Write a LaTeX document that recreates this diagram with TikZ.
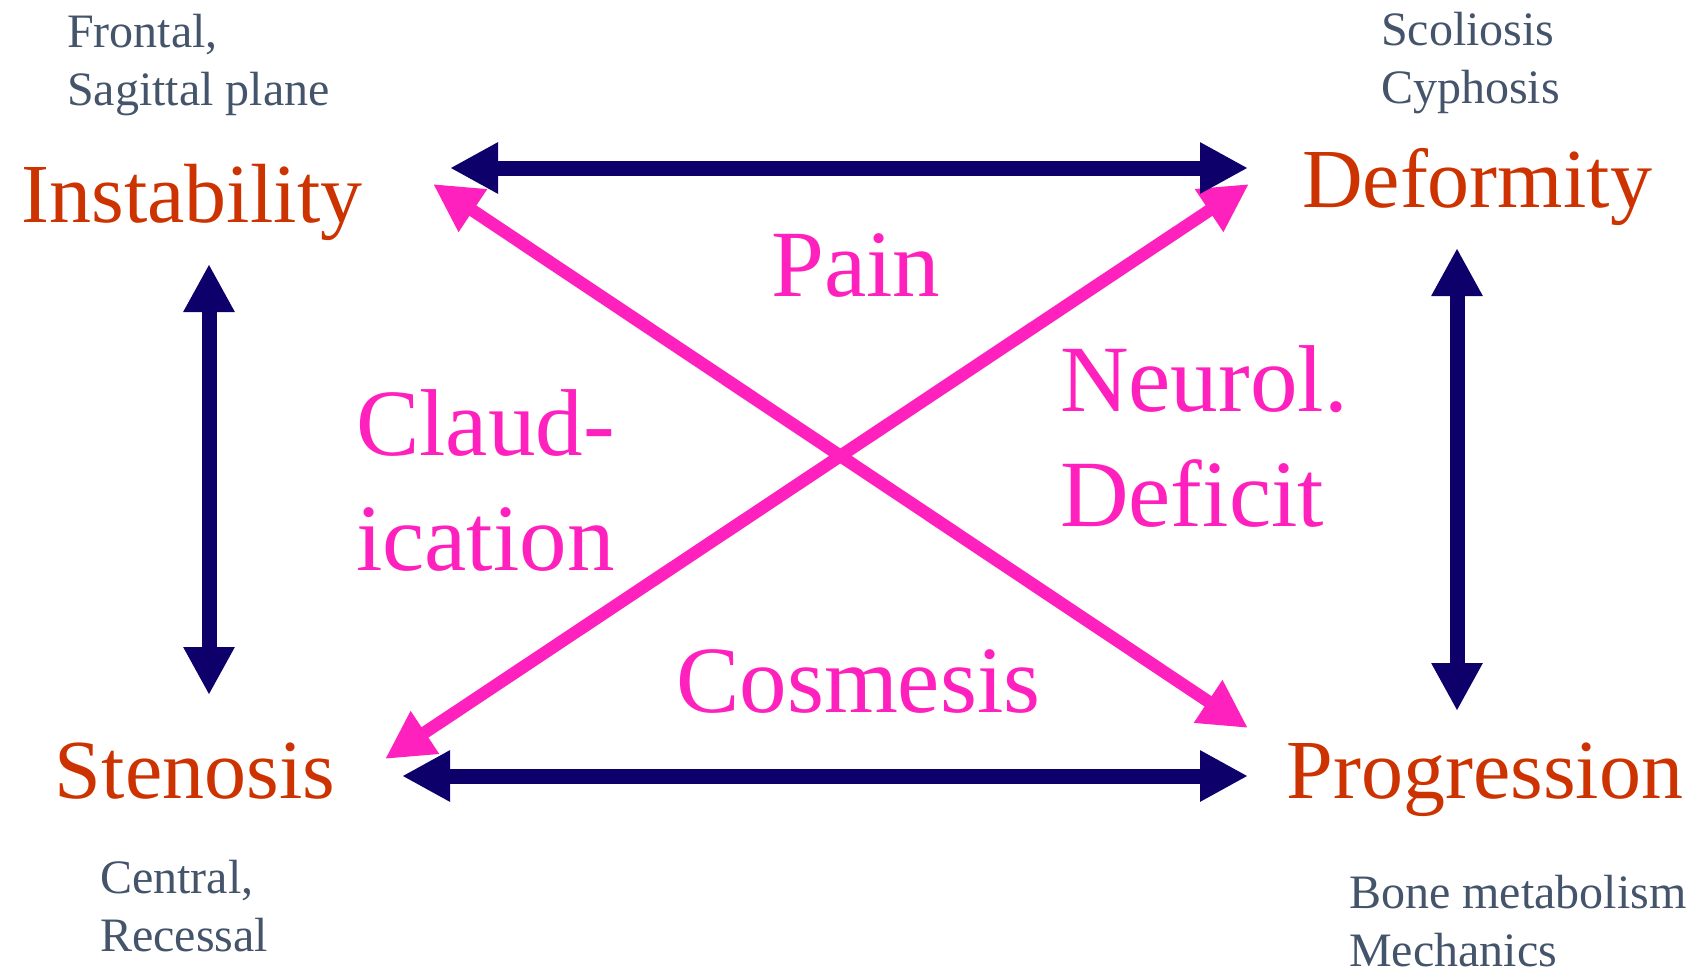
\documentclass[tikz,border=0pt]{standalone}
\usepackage{fontspec}
\setmainfont{Liberation Serif}
\usepackage{tikz}
\usetikzlibrary{arrows.meta,positioning}
\definecolor{darkorange}{HTML}{CC3300}
\definecolor{slategrey}{HTML}{44546A}
\definecolor{darknavy}{HTML}{0D006B}
\definecolor{hotpink}{HTML}{FF21BD}

\begin{document}
\begin{tikzpicture}[x=1pt,y=-1pt,
        topic/.style={text=darkorange,font=\fontsize{84}{100}\selectfont,inner sep=0pt,anchor=base},
        note/.style={text=slategrey,font=\fontsize{48}{58}\selectfont,inner sep=0pt,anchor=base west},
        symptom/.style={text=hotpink,font=\fontsize{95}{115}\selectfont,inner sep=0pt,anchor=base west},
        link/.style={darknavy,line width=15pt,{Triangle[length=48pt,width=48pt]}-{Triangle[length=48pt,width=48pt]}},
        cross/.style={hotpink,line width=12.5pt,{Triangle[length=48pt,width=48pt]}-{Triangle[length=48pt,width=48pt]}}]
        \useasboundingbox (0,0) rectangle (1703,980);
        %Corners
        \node[topic] (instab) at (192,222) {Instability};
        \node[topic] (deform) at (1477,207) {Deformity};
        \node[topic] (stenos) at (195,798) {Stenosis};
        \node[topic] (progr) at (1485,798) {Progression};
        %Notes
        \node[note] (instabnote) at (67,47) {\begin{tabular}[t]{@{}l@{}}Frontal,\\Sagittal plane\end{tabular}};
        \node[note] (deformnote) at (1381,45) {\begin{tabular}[t]{@{}l@{}}Scoliosis\\Cyphosis\end{tabular}};
        \node[note] (stenosnote) at (100,893) {\begin{tabular}[t]{@{}l@{}}Central,\\Recessal\end{tabular}};
        \node[note] (progrnote) at (1349,908) {\begin{tabular}[t]{@{}l@{}}Bone metabolism\\Mechanics\end{tabular}};
        %Symptoms
        \node[symptom] (pain) at (771,296) {Pain};
        \node[symptom] (claud) at (356,455) {\begin{tabular}[t]{@{}l@{}}Claud-\\ication\end{tabular}};
        \node[symptom] (neuro) at (1060,411) {\begin{tabular}[t]{@{}l@{}}Neurol.\\Deficit\end{tabular}};
        \node[symptom] (cosm) at (676,712) {Cosmesis};
        %Arrow ends
        \coordinate (t1) at (450,168);
        \coordinate (t2) at (1248,168);
        \coordinate (b1) at (402,776);
        \coordinate (b2) at (1248,776);
        \coordinate (l1) at (209,264);
        \coordinate (l2) at (209,695);
        \coordinate (r1) at (1457,248);
        \coordinate (r2) at (1457,711);
        \coordinate (d1) at (385,759);
        \coordinate (d2) at (1249,184);
        \coordinate (e1) at (433,184);
        \coordinate (e2) at (1248,728);
        %Draw arrows
        \draw[cross] (d1) -- (d2);
        \draw[cross] (e1) -- (e2);
        \draw[link] (t1) -- (t2);
        \draw[link] (b1) -- (b2);
        \draw[link] (l1) -- (l2);
        \draw[link] (r1) -- (r2);
      \end{tikzpicture}
\end{document}
